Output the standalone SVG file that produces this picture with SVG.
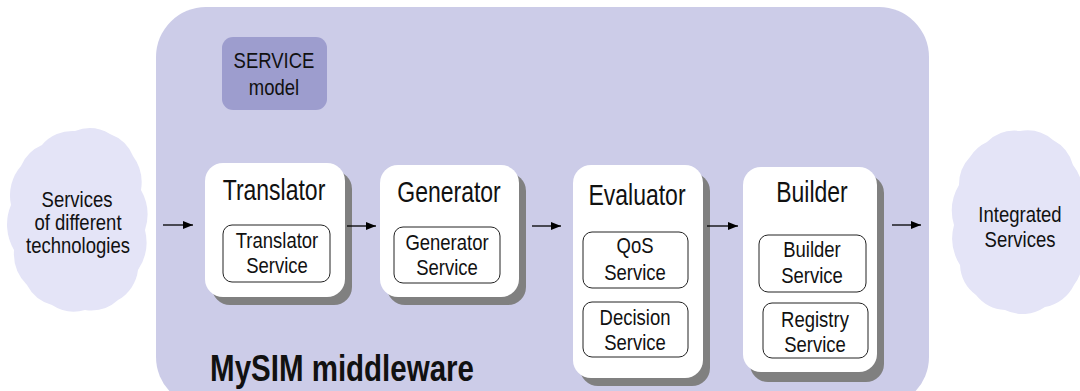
<svg xmlns="http://www.w3.org/2000/svg" width="1080" height="391" viewBox="0 0 1080 391">
<defs>
<style>
text{font-family:"Liberation Sans",Arial,sans-serif;fill:#111;text-anchor:middle}
.cloud{fill:#E4E4F7}
.shadow{fill:#808080}
.box{fill:#fff}
.inner{fill:#fff;stroke:#222;stroke-width:1}
.title{font-size:23px}
.lbl{font-size:18.5px}
.cl{font-size:18.5px}
.arrow{stroke:#000;stroke-width:1.3;fill:none;marker-end:url(#ah)}
</style>
<marker id="ah" viewBox="0 0 10 8" refX="10" refY="4" markerWidth="10" markerHeight="8" markerUnits="userSpaceOnUse" orient="auto">
<path d="M0,0 L10,4 L0,8 Z" fill="#000"/>
</marker>
</defs>
<rect width="1080" height="391" fill="#fff"/>
<g id="cloud-left">
<path class="cloud" d="M42,145 A40,40 0 0 1 75,131 A40,40 0 0 1 110,134 A40,40 0 0 1 133,156 A45,45 0 0 1 141,190 A50,50 0 0 1 145,230 A50,50 0 0 1 138,270 A40,40 0 0 1 118,300 A40,40 0 0 1 85,310 A40,40 0 0 1 52,305 A40,40 0 0 1 27,285 A45,45 0 0 1 14,250 A50,50 0 0 1 11,205 A45,45 0 0 1 21,166 A40,40 0 0 1 42,145 Z"/>
<text class="cl" transform="translate(77,207) scale(1,1.2)">Services</text>
<text class="cl" transform="translate(78,230) scale(1,1.2)">of different</text>
<text class="cl" transform="translate(78,253) scale(1,1.2)">technologies</text>
</g>
<g id="cloud-right">
<path class="cloud" d="M987,142 A40,40 0 0 1 1020,131 A40,40 0 0 1 1053,140 A40,40 0 0 1 1073,165 A45,45 0 0 1 1082,200 L1082,250 A45,45 0 0 1 1074,285 A40,40 0 0 1 1045,307 A40,40 0 0 1 1005,310 A40,40 0 0 1 976,295 A40,40 0 0 1 960,265 A50,50 0 0 1 954,225 A50,50 0 0 1 959,185 A40,40 0 0 1 970,157 A40,40 0 0 1 987,142 Z"/>
<text class="cl" transform="translate(1020,222) scale(1,1.2)">Integrated</text>
<text class="cl" transform="translate(1020,247) scale(1,1.2)">Services</text>
</g>
<g id="middleware">
<rect x="156" y="7" width="773" height="400" rx="50" ry="50" fill="#CCCCE8"/>
<text transform="translate(342,381) scale(1,1.28)" style="font-size:29.5px;font-weight:bold">MySIM middleware</text>
</g>
<g id="service-model">
<rect x="222" y="37" width="105" height="73" rx="11" fill="#9D9DCE"/>
<text class="lbl" transform="translate(274,68) scale(1,1.15)">SERVICE</text>
<text class="lbl" transform="translate(274,95) scale(1,1.15)">model</text>
</g>
<g id="translator">
<rect class="shadow" x="212" y="171" width="140" height="134" rx="18"/>
<rect class="box" x="205" y="163" width="140" height="134" rx="18"/>
<text class="title" transform="translate(274,200) scale(1,1.25)">Translator</text>
<rect class="inner" x="223" y="225" width="107" height="57" rx="9"/>
<text class="lbl" transform="translate(277,248) scale(1,1.15)">Translator</text>
<text class="lbl" transform="translate(277,273) scale(1,1.15)">Service</text>
</g>
<g id="generator">
<rect class="shadow" x="387" y="173" width="139" height="132" rx="18"/>
<rect class="box" x="380" y="165" width="139" height="132" rx="18"/>
<text class="title" transform="translate(449,202) scale(1,1.25)">Generator</text>
<rect class="inner" x="394" y="227" width="106" height="56" rx="9"/>
<text class="lbl" transform="translate(447,250) scale(1,1.15)">Generator</text>
<text class="lbl" transform="translate(447,275) scale(1,1.15)">Service</text>
</g>
<g id="evaluator">
<rect class="shadow" x="580" y="173" width="130" height="213" rx="18"/>
<rect class="box" x="573" y="165" width="130" height="213" rx="18"/>
<text class="title" transform="translate(637,205) scale(1,1.25)">Evaluator</text>
<rect class="inner" x="583" y="232" width="105" height="56" rx="9"/>
<text class="lbl" transform="translate(635,253) scale(1,1.15)">QoS</text>
<text class="lbl" transform="translate(635,280) scale(1,1.15)">Service</text>
<rect class="inner" x="583" y="302" width="105" height="55" rx="9"/>
<text class="lbl" transform="translate(635,325) scale(1,1.15)">Decision</text>
<text class="lbl" transform="translate(635,350) scale(1,1.15)">Service</text>
</g>
<g id="builder">
<rect class="shadow" x="750" y="175" width="134" height="207" rx="18"/>
<rect class="box" x="743" y="167" width="134" height="205" rx="18"/>
<text class="title" transform="translate(812,202) scale(1,1.25)">Builder</text>
<rect class="inner" x="759" y="235" width="107" height="57" rx="9"/>
<text class="lbl" transform="translate(812,257) scale(1,1.15)">Builder</text>
<text class="lbl" transform="translate(812,283) scale(1,1.15)">Service</text>
<rect class="inner" x="763" y="303" width="105" height="55" rx="9"/>
<text class="lbl" transform="translate(815,327) scale(1,1.15)">Registry</text>
<text class="lbl" transform="translate(815,352) scale(1,1.15)">Service</text>
</g>
<g id="connectors">
<line class="arrow" x1="163" y1="225" x2="193" y2="225"/>
<line class="arrow" x1="347" y1="226" x2="376" y2="226"/>
<line class="arrow" x1="532" y1="226" x2="561" y2="226"/>
<line class="arrow" x1="707" y1="226" x2="738" y2="226"/>
<line class="arrow" x1="892" y1="225" x2="921" y2="225"/>
</g>
</svg>
